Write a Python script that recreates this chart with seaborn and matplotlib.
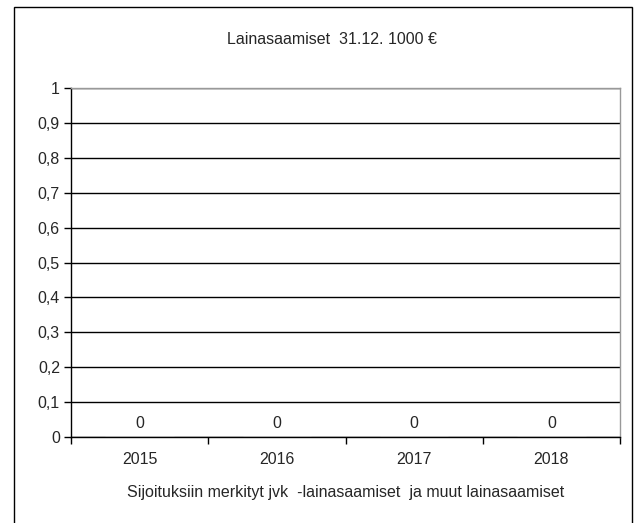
import matplotlib
matplotlib.use("Agg")
import matplotlib.pyplot as plt
import seaborn as sns
import pandas as pd
from matplotlib.ticker import FuncFormatter, FixedLocator
from matplotlib.patches import Rectangle

years = ["2015", "2016", "2017", "2018"]
values = [0, 0, 0, 0]
title = "Lainasaamiset  31.12. 1000 €"
xlabel = "Sijoituksiin merkityt jvk  -lainasaamiset  ja muut lainasaamiset"

sns.set_style("white")
plt.rcParams['font.family'] = ['Liberation Sans', 'DejaVu Sans']

df = pd.DataFrame({"year": years, "value": values})

FS = 11.5

fig = plt.figure(figsize=(6.38, 5.23), dpi=100)
ax = fig.add_axes([71/638, 1-437/523, (620-71)/638, (437-88)/523])

sns.barplot(data=df, x="year", y="value", color="#9999FF", ax=ax, width=0.5)
ax.set_ylim(0, 1)
ax.set_xlim(-0.5, len(years)-0.5)
ax.set_yticks([i/10 for i in range(11)])
ax.yaxis.set_major_formatter(FuncFormatter(lambda v, p: ("%g" % round(v, 1)).replace(".", ",")))
ax.yaxis.grid(True, color="black", linewidth=1)
ax.set_axisbelow(True)
for cont in ax.containers:
    ax.bar_label(cont, labels=[str(v) for v in values], padding=4, fontsize=FS)

ax.xaxis.set_major_locator(FixedLocator(range(len(years))))
ax.xaxis.set_minor_locator(FixedLocator([i-0.5 for i in range(len(years)+1)]))
ax.tick_params(axis="x", which="major", length=0, labelsize=FS, pad=10.5)
ax.tick_params(axis="x", which="minor", length=5, width=1, color="black", direction="out", bottom=True)
ax.tick_params(axis="y", length=5, width=1, color="black", direction="out", left=True, labelsize=FS, pad=3)
ax.set_xlabel(xlabel, fontsize=FS, labelpad=13)
ax.set_ylabel("")

for s in ["left", "bottom"]:
    ax.spines[s].set_color("black")
    ax.spines[s].set_linewidth(1)
for s in ["top", "right"]:
    ax.spines[s].set_visible(True)
    ax.spines[s].set_color("#999999")
    ax.spines[s].set_linewidth(1)

fig.text(332/638, 1-40/523, title, ha="center", va="center", fontsize=FS)

fig.patches.append(Rectangle((14/638, -0.05), (632-14)/638, 1.05 - 7/523,
                             transform=fig.transFigure, fill=False,
                             edgecolor="black", linewidth=1))

fig.savefig("out.png", dpi=100)
